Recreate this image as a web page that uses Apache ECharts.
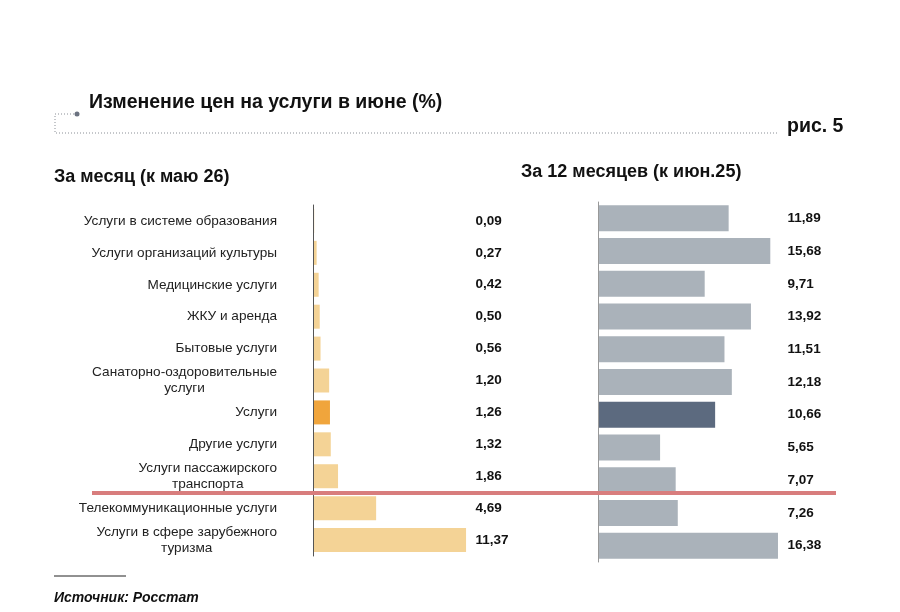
<!DOCTYPE html>
<html>
<head>
<meta charset="utf-8">
<script src="https://cdn.jsdelivr.net/npm/echarts@6/dist/echarts.min.js"></script>
<style>
  html, body { margin: 0; padding: 0; background: #fff; }
  #chart { width: 900px; height: 612px; }
</style>
</head>
<body>
<div id="chart"></div>
<script>
// данные
const categories = [
  'Услуги в системе образования',
  'Услуги организаций культуры',
  'Медицинские услуги',
  'ЖКУ и аренда',
  'Бытовые услуги',
  'Санаторно-оздоровительные\nуслуги',
  'Услуги',
  'Другие услуги',
  'Услуги пассажирского\nтранспорта',
  'Телекоммуникационные услуги',
  'Услуги в сфере зарубежного\nтуризма'
];
const monthValues = [0.09, 0.27, 0.42, 0.50, 0.56, 1.20, 1.26, 1.32, 1.86, 4.69, 11.37];
const yearValues = [11.89, 15.68, 9.71, 13.92, 11.51, 12.18, 10.66, 5.65, 7.07, 7.26, 16.38];
const highlight = 'Услуги';

const FONT = '"Liberation Sans", Arial, sans-serif';
const fmt = v => v.toFixed(2).replace('.', ',');

function barData(values, color, hiColor) {
  return values.map((v, i) => categories[i] === highlight
    ? { value: v, itemStyle: { color: hiColor } }
    : { value: v, itemStyle: { color: color } });
}

const valueLabel = {
  show: true,
  align: 'left',
  margin: 5,
  fontFamily: FONT,
  fontSize: 13.5,
  fontWeight: 'bold',
  color: '#111'
};

const chart = echarts.init(document.getElementById('chart'));
chart.setOption({
  backgroundColor: '#fff',
  animation: false,
  grid: [
    { left: 313, top: 205, width: 157.5, height: 351 },
    { left: 598, top: 202, width: 184.6, height: 360 }
  ],
  xAxis: [
    { gridIndex: 0, type: 'value', min: 0, max: 11.7, show: false },
    { gridIndex: 1, type: 'value', min: 0, max: 16.8, show: false }
  ],
  yAxis: [
    {
      gridIndex: 0, type: 'category', inverse: true, data: categories, z: 5,
      axisLine: { lineStyle: { color: '#555', width: 1 } },
      axisTick: { show: false },
      axisLabel: {
        margin: 36,
        align: 'right',
        formatter: v => v.split('\n').map(s => '{c|' + s + '}').join('\n'),
        rich: { c: { align: 'center', fontFamily: FONT, fontSize: 13.6, lineHeight: 16, color: '#222' } }
      }
    },
    {
      gridIndex: 0, type: 'category', inverse: true, position: 'right',
      data: monthValues.map(fmt),
      axisLine: { show: false }, axisTick: { show: false },
      axisLabel: valueLabel
    },
    {
      gridIndex: 1, type: 'category', inverse: true, data: categories, z: 5,
      axisLine: { lineStyle: { color: '#999', width: 1 } },
      axisTick: { show: false },
      axisLabel: { show: false }
    },
    {
      gridIndex: 1, type: 'category', inverse: true, position: 'right',
      data: yearValues.map(fmt),
      axisLine: { show: false }, axisTick: { show: false },
      axisLabel: valueLabel
    }
  ],
  series: [
    {
      type: 'bar', xAxisIndex: 0, yAxisIndex: 0, barWidth: 24,
      data: barData(monthValues, '#f4d396', '#f0a53c')
    },
    {
      type: 'bar', xAxisIndex: 1, yAxisIndex: 2, barWidth: 26,
      data: barData(yearValues, '#aab2ba', '#5c6a7f')
    }
  ],
  graphic: [
    {
      type: 'polyline', silent: true,
      shape: { points: [[77, 114], [55, 114], [55, 133], [778, 133]] },
      style: { stroke: '#8a8f96', lineWidth: 1, lineDash: [1, 2], fill: null }
    },
    { type: 'circle', shape: { cx: 77, cy: 114, r: 2.5 }, style: { fill: '#6b7280' } },
    {
      type: 'text', left: 89, top: 93,
      style: { text: 'Изменение цен на услуги в июне (%)', font: 'bold 19.5px ' + FONT, fill: '#111' }
    },
    {
      type: 'text', left: 787, top: 117,
      style: { text: 'рис. 5', font: 'bold 19.5px ' + FONT, fill: '#111' }
    },
    {
      type: 'text', left: 54, top: 168,
      style: { text: 'За месяц (к маю 26)', font: 'bold 18px ' + FONT, fill: '#111' }
    },
    {
      type: 'text', left: 521, top: 163,
      style: { text: 'За 12 месяцев (к июн.25)', font: 'bold 18px ' + FONT, fill: '#111' }
    },
    {
      type: 'line', shape: { x1: 92, y1: 493, x2: 836, y2: 493 },
      style: { stroke: '#d87d7d', lineWidth: 4 }, z: 100
    },
    {
      type: 'line', shape: { x1: 54, y1: 576, x2: 126, y2: 576 },
      style: { stroke: '#222', lineWidth: 1 }
    },
    {
      type: 'text', left: 54, top: 591,
      style: { text: 'Источник: Росстат', font: 'italic bold 14px ' + FONT, fill: '#111' }
    }
  ]
});
</script>
</body>
</html>
